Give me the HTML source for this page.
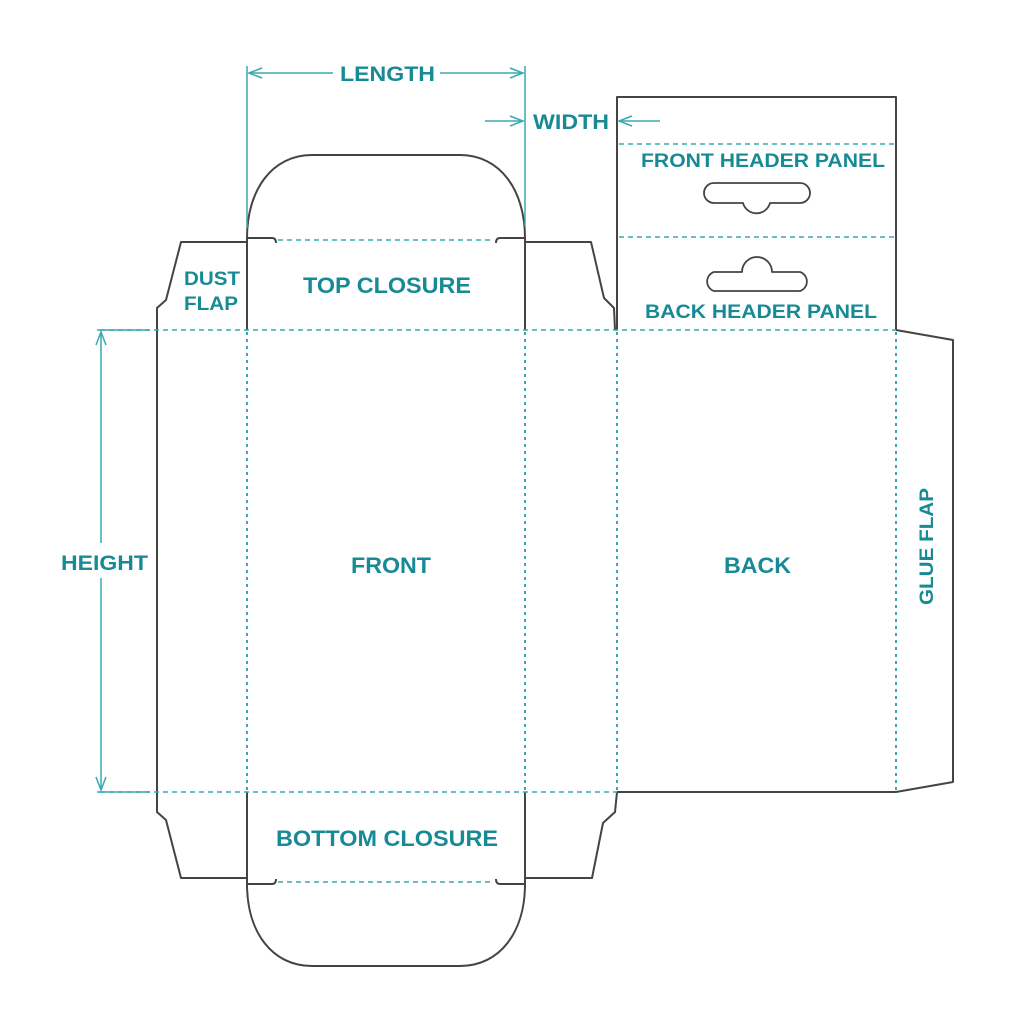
<!DOCTYPE html>
<html><head><meta charset="utf-8"><style>
html,body{margin:0;padding:0;background:#fff;}
svg{display:block;}
text{font-family:"Liberation Sans",Arial,sans-serif;font-weight:bold;fill:#178a95;}
</style></head><body>
<svg width="1024" height="1024" viewBox="0 0 1024 1024" xmlns="http://www.w3.org/2000/svg">
<g fill="none" stroke="#444" stroke-width="2" stroke-linejoin="round">
<path d="M247,242 L181,242 L166,300 L157,308 L157,812 L166,820 L181,878 L247,878"/>
<line x1="247" y1="238" x2="247" y2="330"/>
<line x1="525" y1="238" x2="525" y2="330"/>
<line x1="247" y1="792" x2="247" y2="884"/>
<line x1="525" y1="792" x2="525" y2="884"/>
<path d="M276,243 Q276,238 272,238 L247,238 C247,190 272,155 312,155 L460,155 C500,155 525,190 525,238 L500,238 Q496,238 496,243"/>
<path d="M276,879 Q276,884 272,884 L247,884 C247,932 272,966 312,966 L460,966 C500,966 525,932 525,884 L500,884 Q496,884 496,879"/>
<path d="M525,242 L591,242 L604,298 L614,308 L615,330"/>
<path d="M525,878 L592,878 L603,823 L615,812 L617,792"/>
<path d="M617,330 L617,97 L896,97 L896,330"/>
<path d="M617,792 L896,792 L953,782 L953,340 L896,330"/>
<path d="M714,183 L800,183 A10,10 0 0 1 800,203 L770,203 A14,14 0 0 1 743,203 L714,203 A10,10 0 0 1 714,183 Z" stroke-width="1.8"/>
<path d="M714,291 L800,291 A10,10 0 0 0 800,272 L772,272 A15,15 0 0 0 742,272 L714,272 A10,10 0 0 0 714,291 Z" stroke-width="1.8"/>
</g>
<g stroke="#3aa8a8" stroke-width="1.5" stroke-dasharray="5,4" fill="none">
<line x1="100" y1="330" x2="896" y2="330"/>
<line x1="100" y1="792" x2="617" y2="792"/>
<line x1="278" y1="240" x2="494" y2="240"/>
<line x1="278" y1="882" x2="494" y2="882"/>
<line x1="619" y1="144" x2="896" y2="144"/>
<line x1="619" y1="237" x2="896" y2="237"/>
</g>
<g stroke="#3aa8a8" stroke-width="2" stroke-dasharray="3,4" fill="none">
<line x1="247" y1="332" x2="247" y2="792"/>
<line x1="525" y1="332" x2="525" y2="792"/>
<line x1="617" y1="332" x2="617" y2="792"/>
<line x1="896" y1="332" x2="896" y2="792"/>
</g>
<g stroke="#3aa8b0" stroke-width="1.5" fill="none">
<line x1="247" y1="66" x2="247" y2="228"/>
<line x1="525" y1="66" x2="525" y2="226"/>
<line x1="249" y1="73" x2="333" y2="73"/>
<line x1="440" y1="73" x2="523" y2="73"/>
<path d="M262,68 L249,73 L262,78"/>
<path d="M510,68 L523,73 L510,78"/>
<line x1="485" y1="121" x2="523" y2="121"/>
<path d="M510,116 L523,121 L510,126"/>
<line x1="619" y1="121" x2="660" y2="121"/>
<path d="M632,116 L619,121 L632,126"/>
<line x1="97" y1="330" x2="150" y2="330"/>
<line x1="97" y1="792" x2="150" y2="792"/>
<line x1="101" y1="332" x2="101" y2="543"/>
<line x1="101" y1="578" x2="101" y2="790"/>
<path d="M96,345 L101,332 L106,345"/>
<path d="M96,777 L101,790 L106,777"/>
</g>
<text x="340" y="81" font-size="21" textLength="95" lengthAdjust="spacingAndGlyphs">LENGTH</text>
<text x="533" y="129" font-size="21" textLength="76" lengthAdjust="spacingAndGlyphs">WIDTH</text>
<text x="61" y="570" font-size="21" textLength="87" lengthAdjust="spacingAndGlyphs">HEIGHT</text>
<text x="184" y="285" font-size="19" textLength="56" lengthAdjust="spacingAndGlyphs">DUST</text>
<text x="184" y="310" font-size="19" textLength="54" lengthAdjust="spacingAndGlyphs">FLAP</text>
<text x="303" y="293" font-size="22" textLength="168" lengthAdjust="spacingAndGlyphs">TOP CLOSURE</text>
<text x="276" y="846" font-size="22" textLength="222" lengthAdjust="spacingAndGlyphs">BOTTOM CLOSURE</text>
<text x="351" y="573" font-size="22" textLength="80" lengthAdjust="spacingAndGlyphs">FRONT</text>
<text x="724" y="573" font-size="22" textLength="67" lengthAdjust="spacingAndGlyphs">BACK</text>
<text x="641" y="167" font-size="19" textLength="244" lengthAdjust="spacingAndGlyphs">FRONT HEADER PANEL</text>
<text x="645" y="318" font-size="19" textLength="232" lengthAdjust="spacingAndGlyphs">BACK HEADER PANEL</text>
<text x="0" y="0" font-size="19" transform="translate(933,605) rotate(-90)" textLength="117" lengthAdjust="spacingAndGlyphs">GLUE FLAP</text>
</svg>
</body></html>
